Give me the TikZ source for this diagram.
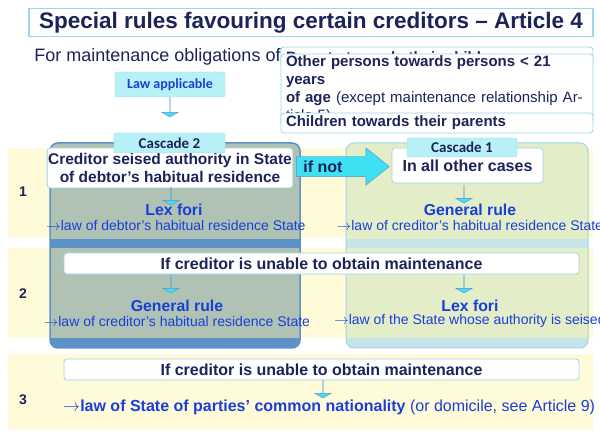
\documentclass[tikz,border=0pt]{standalone}
\usepackage{fontspec}
\setmainfont{Liberation Sans}
\newfontfamily\calib{Carlito}
\usetikzlibrary{shapes.arrows}
\definecolor{navy}{HTML}{1C2358}
\definecolor{tblue}{HTML}{1A3FD8}
\definecolor{cyanf}{HTML}{3FE0F4}
\definecolor{tabf}{HTML}{B8F0F8}
\definecolor{bord}{HTML}{9ED4EC}
\definecolor{yel}{HTML}{FFFBD8}
\definecolor{leftf}{HTML}{AFC2B4}
\definecolor{leftb}{HTML}{5C92C8}
\definecolor{rightf}{HTML}{E3EDC8}
\definecolor{rightb}{HTML}{C4E4E8}
\newcommand{\fs}[1]{\fontsize{#1pt}{1.2\dimexpr #1pt\relax}\selectfont}
\begin{document}
\begin{tikzpicture}[x=1pt,y=-1pt,
 wbox/.style={draw=bord,fill=white,rounded corners=3pt,line width=0.8pt,text=navy,font=\bfseries},
 tab/.style={draw=bord,fill=tabf,rounded corners=2pt,text=navy,font=\calib\bfseries\fs{15}},
 darr/.style={single arrow,draw=leftb,fill=cyanf,shape border rotate=270,inner xsep=0pt,inner ysep=8.5pt,single arrow head extend=8pt,single arrow tip angle=120,minimum height=18pt},
 big/.style={text=tblue,font=\bfseries\fs{15.8}},
 small/.style={text=tblue,font=\fs{14}},
 lbl/.style={text=navy,font=\bfseries\fs{14}}]
\useasboundingbox (0,0) rectangle (600,443);
% bands
\fill[yel] (8,148) rectangle (593,237);
\fill[yel] (8,248) rectangle (593,338);
\fill[yel] (8,354) rectangle (593,429);
% title
\node[draw=bord,fill=white,line width=1.2pt,minimum width=564pt,minimum height=25pt,text=navy,font=\bfseries\fs{22.5}] (title) at (311,22.5) {Special rules favouring certain creditors – Article 4};
\node[text=navy,font=\fs{18}] (for) at (160,57) {For maintenance obligations of:};
\node[wbox,minimum width=312pt,minimum height=20pt,text width=302pt,align=left,font=\bfseries\fs{15},inner sep=2pt] (p1) at (437,57) {Parents towards their children};
\node[wbox,minimum width=312pt,minimum height=36pt,text width=302pt,align=left,font=\bfseries\fs{15},inner sep=2pt] (p2) at (437,90) {Other persons towards persons < 21 years\\of age \mdseries(except maintenance relationship Article 5)};
\node[wbox,minimum width=312pt,minimum height=20pt,text width=302pt,align=left,font=\bfseries\fs{15},inner sep=2pt] (p3) at (437,123) {Children towards their parents};
\node[tab,minimum width=110pt,minimum height=25pt,text=tblue,font=\calib\bfseries\fs{14}] (la) at (170,84.5) {Law applicable};
\node[darr,minimum height=20pt] (a0) at (170,107) {};
% cascade panels
\fill[leftf,rounded corners=8pt] (50,143) rectangle (300,348);
\fill[leftb] (50,239) rectangle (300,248);
\fill[leftb,rounded corners=8pt] (50,336) rectangle (300,348);
\fill[leftf] (50,330) rectangle (300,338);
\fill[leftb] (50,338) rectangle (300,342);
\draw[leftb,line width=1.5pt,rounded corners=8pt] (50,143) rectangle (300,348);
\fill[rightf,rounded corners=8pt] (346,143) rectangle (588,348);
\fill[rightb] (346,239) rectangle (588,248);
\fill[rightb,rounded corners=8pt] (346,336) rectangle (588,348);
\fill[rightf] (346,330) rectangle (588,338);
\fill[rightb] (346,338) rectangle (588,342);
\draw[bord,line width=1pt,rounded corners=8pt] (346,143) rectangle (588,348);
\node[lbl] (r1) at (23,192) {1};
\node[lbl] (r2) at (23,294) {2};
\node[lbl] (r3) at (23,400) {3};
% row 1
\node[wbox,minimum width=222pt,minimum height=40pt,align=center,font=\bfseries\fs{15.5},inner sep=1pt] (c2) at (170,168) {Creditor seised authority in State\\of debtor’s habitual residence};
\node[tab,minimum width=111pt,minimum height=20pt] (t2) at (169.5,143) {Cascade 2};
\node[single arrow,draw=leftb,fill=cyanf,inner xsep=0pt,inner ysep=10pt,single arrow head extend=8.5pt,single arrow tip angle=77,minimum height=93pt] (ifn) at (336.5,166.5) {};
\node[lbl,font=\bfseries\fs{16}] at (323,167) {if not};
\node[wbox,minimum width=151pt,minimum height=35pt,font=\bfseries\fs{16}] (c1) at (467.5,165.5) {In all other cases};
\node[tab,minimum width=110pt,minimum height=19pt] (t1) at (462,147.5) {Cascade 1};
\node[darr] (a1) at (171,196) {};
\node[darr] (a2) at (464,194) {};
\node[big] (lf1) at (174,210) {Lex fori};
\node[small] (lf1s) at (176,225) {\(\rightarrow\)law of debtor’s habitual residence State};
\node[big] (gr1) at (470,210) {General rule};
\node[small] (gr1s) at (470,225) {\(\rightarrow\)law of creditor’s habitual residence State};
% row 2
\node[wbox,minimum width=515pt,minimum height=21pt,font=\bfseries\fs{16}] (u2) at (321.5,263.5) {If creditor is unable to obtain maintenance};
\node[darr] (a3) at (171,284) {};
\node[darr] (a4) at (464,284) {};
\node[big] (gr2) at (177,306) {General rule};
\node[small] (gr2s) at (177,321) {\(\rightarrow\)law of creditor’s habitual residence State};
\node[big] (lf2) at (470,306) {Lex fori};
\node[small] (lf2s) at (470,321) {\(\rightarrow\)law of the State whose authority is seised};
% row 3
\node[wbox,minimum width=515pt,minimum height=21pt,font=\bfseries\fs{16}] (u3) at (321.5,369.5) {If creditor is unable to obtain maintenance};
\node[darr] (a5) at (323,389) {};
\node[text=tblue,font=\fs{16}] (n3) at (329,407) {\textbf{\(\rightarrow\)law of State of parties’ common nationality} (or domicile, see Article 9)};
\end{tikzpicture}
\end{document}
